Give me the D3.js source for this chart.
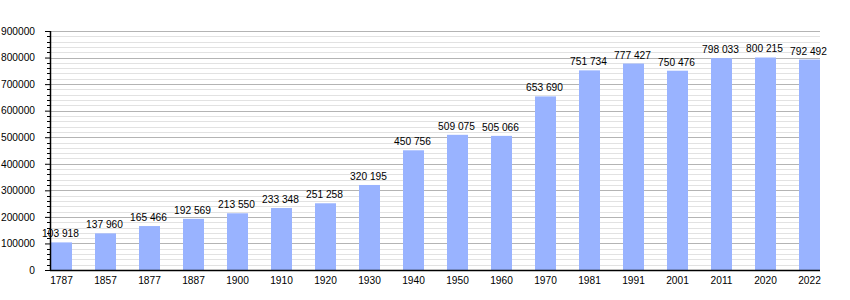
<!DOCTYPE html>
<html><head><meta charset="utf-8">
<script src="https://cdn.jsdelivr.net/npm/d3@7"></script>
<style>
body{margin:0;background:#fff;}
svg{display:block;font-family:"Liberation Sans",Arial,sans-serif;}
</style></head>
<body><svg id="c" width="850" height="300"></svg>
<script>
const years = ["1787","1857","1877","1887","1900","1910","1920","1930","1940","1950","1960","1970","1981","1991","2001","2011","2020","2022"];
const population = [103918,137960,165466,192569,213550,233348,251258,320195,450756,509075,505066,653690,751734,777427,750476,798033,800215,792492];
const yTicks = [0,100000,200000,300000,400000,500000,600000,700000,800000,900000];

(function(){
const svg = d3.select("#c");
const pL = 50, pR = 820, pT = 31, pB = 270;
const fs = 10.2;
const x = d3.scaleBand().domain(years).range([51, pR]).paddingInner(23/44).paddingOuter(0);
const y = d3.scaleLinear().domain([0, 900000]).range([pB, pT]);

const minor = d3.range(0, 900001, 20000);
svg.append("g").selectAll("line").data(minor.filter(v => v % 100000 !== 0)).join("line")
  .attr("x1", pL).attr("x2", pR).attr("y1", d => Math.round(y(d)) + 0.5).attr("y2", d => Math.round(y(d)) + 0.5)
  .attr("stroke", "#e2e2e2").attr("stroke-width", 1);
svg.append("g").selectAll("line").data(yTicks.filter(v => v > 0)).join("line")
  .attr("x1", pL).attr("x2", pR).attr("y1", d => Math.round(y(d)) + 0.5).attr("y2", d => Math.round(y(d)) + 0.5)
  .attr("stroke", "#b4b4b4").attr("stroke-width", 1);

svg.append("g").selectAll("rect").data(population).join("rect")
  .attr("x", (d, i) => x(years[i])).attr("width", x.bandwidth())
  .attr("y", d => y(d)).attr("height", d => pB - y(d))
  .attr("fill", "#99b3ff");

const fmt = d => d3.format(",")(d).replace(/,/g, " ");
svg.append("g").selectAll("text").data(population).join("text")
  .attr("x", (d, i) => x(years[i]) + x.bandwidth() / 2 - 1)
  .attr("y", d => y(d) - 5)
  .attr("text-anchor", "middle").attr("font-size", fs).attr("fill", "#000")
  .text(d => fmt(d));

const yAxis = d3.axisLeft(y).tickValues(yTicks).tickSize(5).tickFormat(d3.format("d"));
const ga = svg.append("g").attr("transform", `translate(${pL},0)`).call(yAxis);
ga.select(".domain").remove();
ga.selectAll("text").attr("font-size", fs).attr("font-family", "Liberation Sans, Arial, sans-serif").attr("x", -15).attr("fill", "#000");
ga.selectAll("line").attr("stroke", "#000");
svg.append("g").selectAll("line").data(minor.filter(v => v % 100000 !== 0)).join("line")
  .attr("x1", pL - 3).attr("x2", pL).attr("y1", d => Math.round(y(d)) + 0.5).attr("y2", d => Math.round(y(d)) + 0.5)
  .attr("stroke", "#000");
svg.append("line").attr("x1", pL + 0.5).attr("x2", pL + 0.5).attr("y1", pT).attr("y2", pB + 1)
  .attr("stroke", "#000").attr("stroke-width", 1.5);

const xAxis = d3.axisBottom(x).tickSize(0).tickPadding(7);
const gx = svg.append("g").attr("transform", `translate(0,${pB})`).call(xAxis);
gx.select(".domain").remove();
gx.selectAll("text").attr("font-size", fs).attr("font-family", "Liberation Sans, Arial, sans-serif").attr("fill", "#000");
svg.append("line").attr("x1", pL).attr("x2", pR).attr("y1", pB + 0.5).attr("y2", pB + 0.5)
  .attr("stroke", "#000").attr("stroke-width", 1.5);
})();
</script></body></html>
